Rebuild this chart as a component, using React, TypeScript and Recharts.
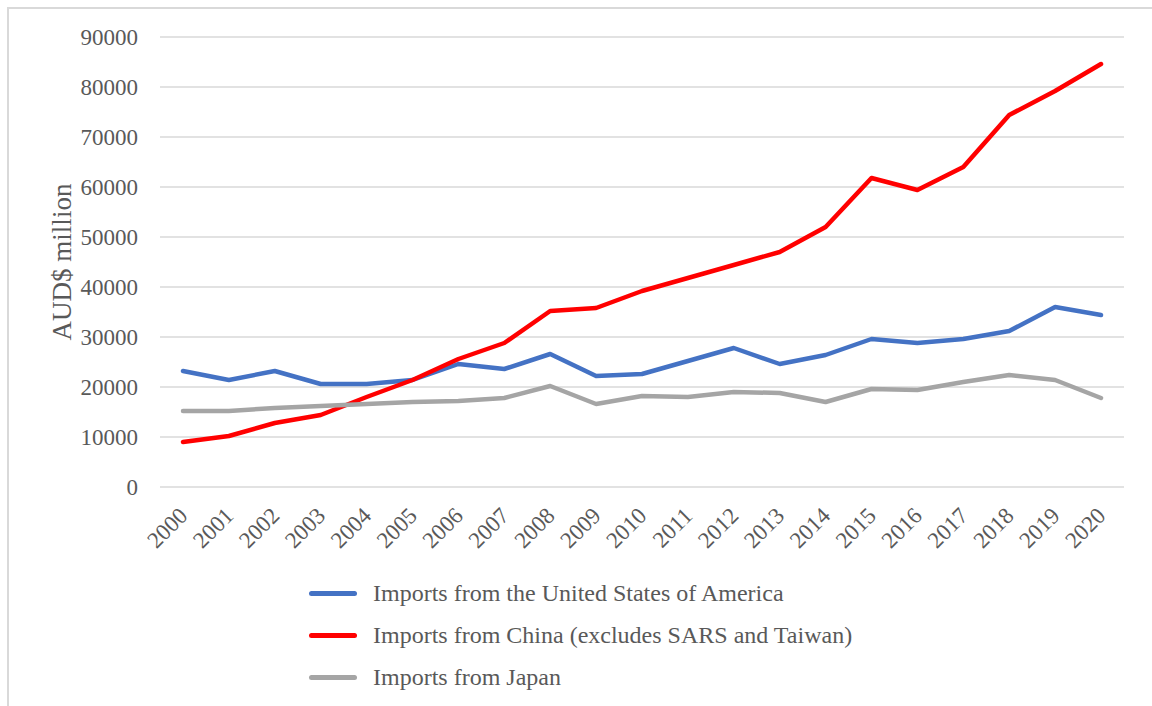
import { CartesianGrid, Legend, Line, LineChart, XAxis, YAxis } from "recharts";

const years = [
  "2000", "2001", "2002", "2003", "2004", "2005", "2006", "2007", "2008", "2009", "2010",
  "2011", "2012", "2013", "2014", "2015", "2016", "2017", "2018", "2019", "2020",
];
const usa = [
  23200, 21400, 23200, 20600, 20600, 21400, 24600, 23600, 26600, 22200, 22600,
  25200, 27800, 24600, 26400, 29600, 28800, 29600, 31200, 36000, 34400,
];
const china = [
  9000, 10200, 12800, 14400, 18000, 21400, 25600, 28800, 35200, 35800, 39200,
  41800, 44400, 47000, 52000, 61800, 59400, 64000, 74400, 79200, 84600,
];
const japan = [
  15200, 15200, 15800, 16200, 16600, 17000, 17200, 17800, 20200, 16600, 18200,
  18000, 19000, 18800, 17000, 19600, 19400, 21000, 22400, 21400, 17800,
];
const yTicks = [0, 10000, 20000, 30000, 40000, 50000, 60000, 70000, 80000, 90000];

const series = [
  { key: "usa", name: "Imports from the United States of America", color: "#4472c4" },
  { key: "china", name: "Imports from China (excludes SARS and Taiwan)", color: "#ff0000" },
  { key: "japan", name: "Imports from Japan", color: "#a5a5a5" },
];

const data = years.map((year, i) => ({ year, usa: usa[i], china: china[i], japan: japan[i] }));

const FONT = '"Liberation Serif", "Times New Roman", serif';
const TEXT = "#595959";

function YearTick({ x, y, payload }: any) {
  return (
    <text
      x={x + 6}
      y={y + 30}
      transform={`rotate(-45, ${x + 6}, ${y + 30})`}
      textAnchor="end"
      fill={TEXT}
      fontSize={23}
      fontFamily={FONT}
    >
      {payload.value}
    </text>
  );
}

function AxisTitle({ viewBox }: any) {
  const cy = viewBox.y + viewBox.height / 2;
  return (
    <text
      x={71}
      y={cy}
      transform={`rotate(-90, 71, ${cy})`}
      textAnchor="middle"
      fill={TEXT}
      fontSize={27}
      fontFamily={FONT}
    >
      AUD$ million
    </text>
  );
}

function LegendBox() {
  return (
    <div style={{ width: 1124, height: 136, paddingTop: 2, paddingLeft: 309, boxSizing: "border-box" }}>
      {series.map((s) => (
        <div key={s.key} style={{ height: 42, display: "flex", alignItems: "center" }}>
          <span
            style={{
              display: "inline-block",
              width: 48,
              height: 5,
              borderRadius: 3,
              background: s.color,
              marginRight: 16,
            }}
          />
          <span style={{ fontFamily: FONT, fontSize: 24, color: TEXT, whiteSpace: "nowrap" }}>{s.name}</span>
        </div>
      ))}
    </div>
  );
}

export default function App() {
  return (
    <div>
      <div
        style={{
          position: "absolute",
          left: 7,
          top: 7,
          width: 1200,
          height: 720,
          borderLeft: "2px solid #d9d9d9",
          borderTop: "2px solid #d9d9d9",
        }}
      />
      <div style={{ position: "absolute", left: 0, top: 0 }}>
        <LineChart width={1152} height={706} data={data} margin={{ top: 37, right: 28, bottom: 0, left: 0 }}>
          <CartesianGrid vertical={false} stroke="#d9d9d9" strokeWidth={1.5} />
          <XAxis
            dataKey="year"
            axisLine={false}
            tickLine={false}
            tickSize={0}
            tickMargin={0}
            interval={0}
            height={83}
            padding={{ left: 23, right: 23 }}
            tick={<YearTick />}
          />
          <YAxis
            width={160}
            domain={[0, 90000]}
            ticks={yTicks}
            axisLine={false}
            tickLine={false}
            tickSize={0}
            tickMargin={22}
            tick={{ fill: TEXT, fontSize: 23, fontFamily: FONT }}
            label={{ content: <AxisTitle /> }}
          />
          <Legend
            layout="vertical"
            verticalAlign="bottom"
            align="center"
            wrapperStyle={{ left: 0 }}
            content={<LegendBox />}
          />
          {series.map((s) => (
            <Line
              key={s.key}
              type="linear"
              dataKey={s.key}
              name={s.name}
              stroke={s.color}
              strokeWidth={4.5}
              strokeLinecap="round"
              strokeLinejoin="round"
              dot={false}
              activeDot={false}
              isAnimationActive={false}
            />
          ))}
        </LineChart>
      </div>
    </div>
  );
}
